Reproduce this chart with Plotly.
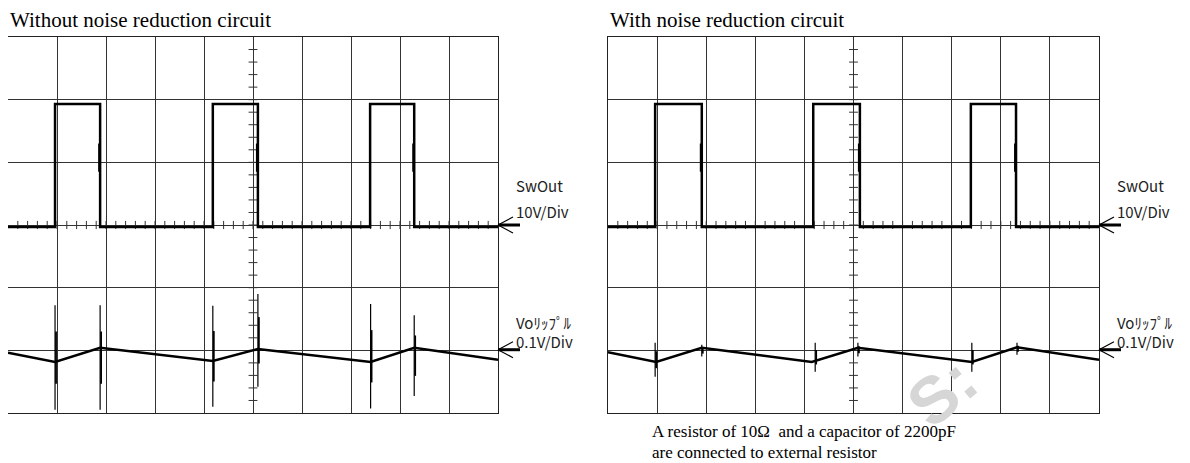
import plotly.graph_objects as go

# ---------------- data (in screen divisions: x 0..10, y -3..3) ----------------
titles = ["Without noise reduction circuit", "With noise reduction circuit"]

# SwOut square wave: edge times (div) and levels (div)
sw_edges_left = [0.96, 1.88, 4.18, 5.10, 7.39, 8.29]
sw_edges_right = [0.96, 1.91, 4.18, 5.13, 7.39, 8.31]
sw_low = -0.03
sw_high = 1.93
# ringing segment visible on the falling edges (div, top/bottom)
ring_top = 1.30
ring_bot = 0.85

# Vo ripple vertices
rip_x_left = [0.0, 0.96, 1.88, 4.18, 5.10, 7.40, 8.29, 10.0]
rip_y_left = [-2.04, -2.185, -1.96, -2.17, -1.98, -2.185, -1.96, -2.15]
rip_x_right = [0.0, 0.98, 1.91, 4.15, 5.09, 7.41, 8.33, 10.0]
rip_y_right = [-2.03, -2.185, -1.96, -2.185, -1.96, -2.185, -1.95, -2.15]

# switching spikes on ripple: x, top, bottom
spike_x_left = [0.96, 1.88, 4.18, 5.10, 7.40, 8.29]
spike_top_left = [-1.28, -1.28, -1.29, -1.10, -1.26, -1.44]
spike_bot_left = [-2.95, -2.95, -2.90, -2.58, -2.93, -2.73]
spike_x_right = [0.96, 1.91, 4.22, 5.09, 7.41, 8.33]
spike_top_right = [-1.88, -1.91, -1.88, -1.88, -1.88, -1.88]
spike_bot_right = [-2.42, -2.10, -2.34, -2.10, -2.34, -2.07]

labels_sw = ["SwOut", "10V/Div"]
labels_vo = ["Voﾘｯﾌﾟﾙ", "0.1V/Div"]
marker_levels = [0.0, -1.99]
caption = ["A resistor of 10\u03a9  and a capacitor of 2200pF", "are connected to external resistor"]

# ---------------- layout geometry (page pixels) ----------------
OFF = 8                    # default body margin of the written page
W, H = 1182, 455           # figure size so page is 1190 x 463
scopes = [
    dict(x0=8, x1=498, xa="x", ya="y"),
    dict(x0=608, x1=1099, xa="x2", ya="y2"),
]
Y_TOP, Y_BOT = 37, 413
XR = [0, 10]
YR = [-3, 3]


def px(x):
    return (x - OFF) / W


def py(y):
    return 1 - (y - OFF) / H


fig = go.Figure()
shapes = []
annotations = []

datasets = [
    (sw_edges_left, rip_x_left, rip_y_left, spike_x_left, spike_top_left, spike_bot_left),
    (sw_edges_right, rip_x_right, rip_y_right, spike_x_right, spike_top_right, spike_bot_right),
]

lab_font = dict(family="Noto Sans CJK JP, DejaVu Sans Condensed, sans-serif",
                size=15, color="#222222")

for i, (sc, ds) in enumerate(zip(scopes, datasets)):
    edges, rx, ry, skx, skt, skb = ds
    xa, ya = sc["xa"], sc["ya"]

    # graticule minor ticks on center axes
    tx, ty = [], []
    for k in range(1, 50):
        x = XR[0] + k * 0.2
        tx += [x, x, None]
        ty += [-0.065, 0.065, None]
    for k in range(1, 30):
        y = YR[0] + k * 0.2
        tx += [4.91, 5.09, None]
        ty += [y, y, None]
    fig.add_trace(go.Scatter(x=tx, y=ty, mode="lines", line=dict(color="#333333", width=1),
                             xaxis=xa, yaxis=ya, hoverinfo="skip", showlegend=False))

    # SwOut square wave
    sx, sy = [XR[0]], [sw_low]
    for j in range(0, len(edges), 2):
        r, f = edges[j], edges[j + 1]
        sx += [r, r, f, f]
        sy += [sw_low, sw_high, sw_high, sw_low]
    sx.append(XR[1])
    sy.append(sw_low)
    fig.add_trace(go.Scatter(x=sx, y=sy, mode="lines", line=dict(color="black", width=2.5),
                             xaxis=xa, yaxis=ya, hoverinfo="skip", showlegend=False))
    # ringing on falling edges
    gx, gy = [], []
    for f in edges[1::2]:
        gx += [f - 0.02, f - 0.02, None]
        gy += [ring_top, ring_bot, None]
    fig.add_trace(go.Scatter(x=gx, y=gy, mode="lines", line=dict(color="black", width=2),
                             xaxis=xa, yaxis=ya, hoverinfo="skip", showlegend=False))

    # ripple
    fig.add_trace(go.Scatter(x=rx, y=ry, mode="lines", line=dict(color="black", width=2.5),
                             xaxis=xa, yaxis=ya, hoverinfo="skip", showlegend=False))

    # spikes: thin full length + heavier core
    kx, ky, cx, cy = [], [], [], []
    for x, t, b in zip(skx, skt, skb):
        kx += [x, x, None]
        ky += [t, b, None]
        cx += [x + 0.02, x + 0.02, None]
        cy += [t + (b - t) * 0.25, t + (b - t) * 0.75, None]
    fig.add_trace(go.Scatter(x=kx, y=ky, mode="lines", line=dict(color="black", width=1.2),
                             xaxis=xa, yaxis=ya, hoverinfo="skip", showlegend=False))
    fig.add_trace(go.Scatter(x=cx, y=cy, mode="lines", line=dict(color="black", width=1.8),
                             xaxis=xa, yaxis=ya, hoverinfo="skip", showlegend=False))

    def dx2px(v, sc=sc):
        return sc["x0"] + (v - XR[0]) / (XR[1] - XR[0]) * (sc["x1"] - sc["x0"])

    def dy2px(v):
        return Y_BOT - (v - YR[0]) / (YR[1] - YR[0]) * (Y_BOT - Y_TOP)

    tip = dx2px(XR[1])
    for lvl in marker_levels:
        yy = dy2px(lvl)
        shapes.append(dict(type="line", xref="paper", yref="paper", x0=px(tip), x1=px(tip + 22),
                           y0=py(yy), y1=py(yy), line=dict(color="black", width=3)))
        for s in (-1, 1):
            shapes.append(dict(type="line", xref="paper", yref="paper", x0=px(tip), x1=px(tip + 15),
                               y0=py(yy), y1=py(yy + s * 8), line=dict(color="black", width=1.2)))
    for txt, yc in zip(labels_sw, [186, 211]):
        annotations.append(dict(text=txt, x=px(tip + 16), y=py(yc), xref="paper", yref="paper",
                                xanchor="left", yanchor="middle", showarrow=False, font=lab_font))
    for txt, yc in zip(labels_vo, [322, 341]):
        annotations.append(dict(text=txt, x=px(tip + 16), y=py(yc), xref="paper", yref="paper",
                                xanchor="left", yanchor="middle", showarrow=False, font=lab_font))

    annotations.append(dict(text=titles[i], x=px(sc["x0"]), y=py(34), xref="paper", yref="paper",
                            xanchor="left", yanchor="bottom", showarrow=False,
                            font=dict(family="Liberation Serif, Times New Roman, serif", size=21,
                                      color="black")))

    axis_common = dict(showgrid=True, gridcolor="#333333", gridwidth=1, zeroline=False,
                       showline=True, linecolor="#222222", linewidth=1.2, mirror=True,
                       showticklabels=False, ticks="", fixedrange=True)
    fig.layout[("xaxis" if i == 0 else "xaxis2")] = dict(
        domain=[px(sc["x0"]), px(sc["x1"])], range=XR, dtick=1, tick0=0,
        anchor=ya, **axis_common)
    fig.layout[("yaxis" if i == 0 else "yaxis2")] = dict(
        domain=[py(Y_BOT), py(Y_TOP)], range=YR, dtick=1, tick0=0,
        anchor=xa, **axis_common)

for j, line in enumerate(caption):
    annotations.append(dict(text=line, x=px(650), y=py(431 + j * 21), xref="paper", yref="paper",
                            xanchor="left", yanchor="middle", showarrow=False,
                            font=dict(family="Liberation Serif, Times New Roman, serif", size=17,
                                      color="black")))

# faint watermark fragment in lower right
annotations.append(dict(text="<b>S:</b>", x=px(942), y=py(392), xref="paper", yref="paper",
                        xanchor="center", yanchor="middle", showarrow=False, textangle=-40,
                        font=dict(family="Liberation Sans, sans-serif", size=66, color="#d6d6d6")))

fig.update_layout(width=W, height=H, margin=dict(l=0, r=0, t=0, b=0),
                  paper_bgcolor="white", plot_bgcolor="white",
                  shapes=shapes, annotations=annotations, showlegend=False)

fig.write_html("out.html")
